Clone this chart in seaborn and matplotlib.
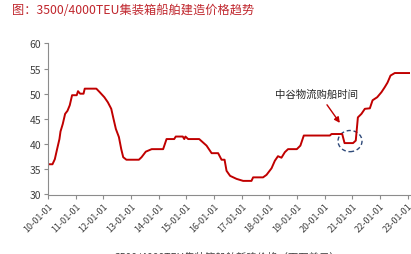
import matplotlib
matplotlib.use("Agg")
import matplotlib.pyplot as plt
import matplotlib.dates as mdates
from matplotlib.patches import Ellipse
import seaborn as sns
import pandas as pd

dates = ["2010-01-01", "2010-03-01", "2010-04-01", "2010-05-01", "2010-06-01", "2010-06-15",
         "2010-07-15", "2010-08-15", "2010-09-15", "2010-10-15", "2010-11-15", "2011-01-15",
         "2011-02-01", "2011-03-01", "2011-04-15", "2011-05-01", "2011-10-01", "2011-11-15",
         "2012-01-15", "2012-03-01", "2012-04-15", "2012-05-15", "2012-06-15", "2012-07-25",
         "2012-08-25", "2012-09-20", "2012-11-01", "2013-04-15", "2013-05-20", "2013-07-15",
         "2013-10-01", "2014-03-01", "2014-04-15", "2014-07-25", "2014-08-15", "2014-11-15",
         "2014-12-05", "2014-12-20", "2015-01-25", "2015-06-20", "2015-07-20", "2015-09-25",
         "2015-12-01", "2016-02-25", "2016-04-10", "2016-05-20", "2016-06-15", "2016-08-01",
         "2016-10-25", "2017-01-20", "2017-05-10", "2017-06-01", "2017-10-10", "2017-11-25",
         "2018-01-30", "2018-03-15", "2018-04-25", "2018-06-10", "2018-07-25", "2018-09-05",
         "2018-12-30", "2019-02-15", "2019-04-01", "2020-03-10", "2020-04-01", "2020-08-20",
         "2020-09-20", "2021-01-10", "2021-02-15", "2021-03-15", "2021-05-01", "2021-06-15",
         "2021-08-20", "2021-09-25", "2021-11-25", "2022-01-20", "2022-03-05", "2022-04-10",
         "2022-05-20", "2022-07-15", "2023-02-01"]
prices = [36.0, 36.0, 37.0, 39.0, 41.0, 42.5,
          44.0, 46.0, 46.6, 47.7, 49.7, 49.7,
          50.5, 50.0, 50.0, 51.0, 51.0, 50.3,
          49.3, 48.3, 47.0, 45.0, 43.0, 41.4,
          39.0, 37.4, 36.9, 36.9, 37.4, 38.5,
          39.0, 39.0, 41.0, 41.0, 41.5, 41.5,
          41.0, 41.5, 41.0, 41.0, 40.6, 39.7,
          38.2, 38.2, 36.9, 36.9, 34.7, 33.7,
          33.1, 32.7, 32.7, 33.4, 33.4, 33.9,
          35.2, 36.7, 37.6, 37.3, 38.4, 39.0,
          39.0, 39.7, 41.7, 41.7, 42.0, 42.0,
          40.2, 40.2, 40.7, 45.3, 46.0, 47.0,
          47.1, 48.7, 49.3, 50.3, 51.3, 52.2,
          53.6, 54.1, 54.1]

tick_years = list(range(2010, 2024))
tick_labels = [f"{y % 100:02d}-01-01" for y in tick_years]
y_ticks = [30, 35, 40, 45, 50, 55, 60]

title = "图：3500/4000TEU集装箱船舶建造价格趋势"
annotation = "中谷物流购船时间"
xlabel = "3500/4000TEU集装箱船舶新建价格（百万美元）"

df = pd.DataFrame({"date": pd.to_datetime(dates), "price": prices})

sns.set_theme(style="white")
plt.rcParams["font.family"] = ["Noto Sans CJK SC", "DejaVu Sans"]

fig = plt.figure(figsize=(4.11, 2.55), dpi=100)
ax = fig.add_axes([48 / 411, 59.5 / 255, 362 / 411, 151.2 / 255])

sns.lineplot(data=df, x="date", y="price", ax=ax, color="#C00000", linewidth=1.4)

ax.set_xlim(pd.Timestamp("2010-01-01"), pd.Timestamp("2023-02-01"))
ax.set_ylim(30, 60)
ax.set_yticks(y_ticks)
ax.set_yticklabels([str(v) for v in y_ticks], fontsize=7.5, color="#404040")
ax.set_xticks([pd.Timestamp(f"{y}-01-01") for y in tick_years])
ax.set_xticklabels(tick_labels, rotation=45, ha="right", rotation_mode="anchor",
                   fontsize=6.5, color="#404040")
ax.set_xlabel("")
ax.set_ylabel("")

for s in ["top", "right"]:
    ax.spines[s].set_visible(False)
for s in ["left", "bottom"]:
    ax.spines[s].set_color("#8c8c8c")
    ax.spines[s].set_linewidth(0.8)
ax.tick_params(axis="both", which="both", direction="out", length=3, width=0.8,
               color="#8c8c8c", pad=2)
ax.tick_params(axis="y", left=True)
ax.tick_params(axis="x", bottom=True)

# annotation text
ax.text(mdates.date2num(pd.Timestamp("2019-09-15")), 50.0, annotation,
        ha="center", va="center", fontsize=7.5, color="#262626")
# arrow
ax.annotate("",
            xy=(mdates.date2num(pd.Timestamp("2020-07-20")), 44.2),
            xytext=(mdates.date2num(pd.Timestamp("2020-02-01")), 47.8),
            arrowprops=dict(arrowstyle="-|>", color="#C00000", lw=1.0,
                            shrinkA=0, shrinkB=0, mutation_scale=8))
ell = Ellipse((mdates.date2num(pd.Timestamp("2020-12-01")), 40.6),
              width=24 / 27.67 * 365.25, height=4.2, fill=False,
              edgecolor="#2F4A7A", linestyle=(0, (3, 2)), linewidth=1.0)
ax.add_patch(ell)

fig.text(12 / 411, 1 - 10 / 255, title, fontsize=8.8, color="#C0262D",
         ha="left", va="center")
fig.text(228 / 411, 1 - 257 / 255, xlabel, fontsize=7.5, color="#404040",
         ha="center", va="center")

fig.savefig("out.png", dpi=100)
